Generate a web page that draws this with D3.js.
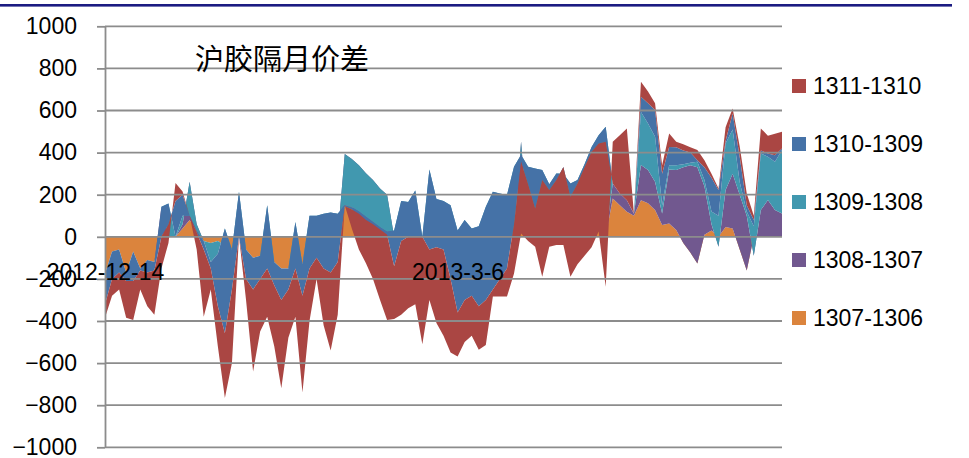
<!DOCTYPE html>
<html><head><meta charset="utf-8">
<script src="https://cdn.jsdelivr.net/npm/d3@7"></script>
<style>body{margin:0;background:#fff;} svg{display:block}</style>
</head><body>
<svg id="c" width="969" height="458"></svg>
<script>
const categories = ["2012-12-14","2012-12-17","2012-12-18","2012-12-19","2012-12-20","2012-12-21","2012-12-24","2012-12-25","2012-12-26","2012-12-27","2012-12-28","2012-12-31",
"2013-1-4","2013-1-7","2013-1-8","2013-1-9","2013-1-10","2013-1-11","2013-1-14","2013-1-15","2013-1-16","2013-1-17","2013-1-18",
"2013-1-21","2013-1-22","2013-1-23","2013-1-24","2013-1-25","2013-1-28","2013-1-29","2013-1-30","2013-1-31","2013-2-1",
"2013-2-4","2013-2-5","2013-2-6","2013-2-7","2013-2-8","2013-2-18","2013-2-19","2013-2-20","2013-2-21","2013-2-22",
"2013-2-25","2013-2-26","2013-2-27","2013-2-28","2013-3-1","2013-3-4","2013-3-5","2013-3-6","2013-3-7","2013-3-8",
"2013-3-11","2013-3-12","2013-3-13","2013-3-14","2013-3-15","2013-3-18","2013-3-19","2013-3-20","2013-3-21","2013-3-22",
"2013-3-25","2013-3-26","2013-3-27","2013-3-28","2013-3-29","2013-4-1","2013-4-2","2013-4-3",
"2013-4-8","2013-4-9","2013-4-10","2013-4-11","2013-4-12","2013-4-15","2013-4-16","2013-4-17","2013-4-18","2013-4-19",
"2013-4-22","2013-4-23","2013-4-24","2013-4-25","2013-4-26","2013-5-2","2013-5-3",
"2013-5-6","2013-5-7","2013-5-8","2013-5-9","2013-5-10","2013-5-13","2013-5-14","2013-5-15","2013-5-16"];

// series, in stacking order (first = bottom/back)
const s1307_1306 = [-175,-70,-60,-170,-70,-150,-110,-120,20,0, 0,40,80,30,-20,-30,-20,-40,-60,0,
 -60,-100,-90,-100,-120,-150,-150,-100,-130,0, 0,0,0,0,150,150,0,0,0,0, 0,0,0,0,0,0,0,0,0,0,
 0,0,0,0,0,0,0,0,0,30, 20,0,0,0,0,0,0,0,0,0, 30,0,182,150,119,100,174,159,127,56,
 63,32,-30,-75,-127,10,30,0,47,40, -60,-160,0,0,0,0,0];
const s1308_1307 = [0,0,0,0,0,0,0,0,123,0, 0,20,182,30,0,0,0,0,0,0, 0,0,0,0,0,0,0,0,0,0,
 0,0,0,0,243,220,340,302,270,230, 200,0,0,0,0,0,0,0,0,0, 0,0,0,0,0,0,0,0,0,422,
 0,0,0,0,0,0,0,0,0,0, 0,0,71,56,55,10,167,158,134,55, 257,285,360,415,457,230,30,-47,175,260,
 260,260,-90,127,175,127,111];
const s1309_1308 = [0,0,0,0,0,0,0,0,0,158, 0,40,-162,-30,0,-90,-60,80,0,214,
 0,0,0,250,0,0,0,170,0,100, 100,110,115,110,-242,-230,-220,-207,-200,-185,
 -176,30,170,165,220,0,320,180,170,150, 30,80,40,50,143,214,206,199,333,-62,
 313,325,317,250,301,300,253,270,345,427, 453,523,0,0,0,1,252,221,214,39,
 20,23,15,12,26,30,60,147,221,210, 60,20,140,269,205,229,301];
const s1310_1309 = [-145,-130,-110,-40,-140,-10,-60,-40,-143,-98, 170,100,0,-10,-40,-30,-250,-498,-190,-214,
 -140,-150,-110,-300,-110,-150,-100,-220,-150,-250, -200,-260,-285,-230,-6,-10,-10,-15,-10,-10,
 -14,-170,-190,-165,-220,0,-380,-230,-230,-350, -390,-380,-320,-380,-443,-464,-406,-349,-273,-33,
 -83,-190,-47,-28,-31,32,-63,-17,-15,-23, -40,-72,0,0,0,0,72,96,127,150,
 87,85,65,48,8,60,160,122,12,76, 120,30,30,14,16,32,8];
const s1311_1310 = [-65,-80,-80,-175,-185,-90,-160,-210,-150,-90, 85,15,0,-80,-320,-100,-190,-308,-350,0,
 -100,-390,-250,-230,-290,-420,-230,-230,-460,-250, -100,-270,-370,-250,5,-90,-170,-206,-260,-335,
 -405,-250,-350,-340,-320,-510,-240,-360,-410,-350, -209,-200,-190,-207,-214,-34,-84,-134,-234,-341,
 -270,-182,-460,-269,-309,-371,-380,-383,-420,-454, -418,-688,198,277,341,0,71,56,32,40,
 64,26,30,25,48,34,20,8,65,23, 50,56,20,105,84,102,79];

const seriesNames = ["1307-1306","1308-1307","1309-1308","1310-1309","1311-1310"];
const seriesValues = [s1307_1306, s1308_1307, s1309_1308, s1310_1309, s1311_1310];
const seriesColors = ["#DB843D","#71588F","#4198AF","#4572A7","#AA4643"];
const legendOrder = ["1311-1310","1310-1309","1309-1308","1308-1307","1307-1306"];
const yTicks = [-1000,-800,-600,-400,-200,0,200,400,600,800,1000];
const xTickLabels = ["2012-12-14","2013-3-6"];
const chartTitle = "沪胶隔月价差";

(function draw() {
  const svg = d3.select("#c");
  const pL = 105, pR = 782, pT = 26.3, pB = 447.3;
  const font = "'Liberation Sans', Arial, sans-serif";

  const x = d3.scalePoint().domain(categories).range([pL, pR]);
  const y = d3.scaleLinear().domain([-1000, 1000]).range([pB, pT]);

  svg.append("rect").attr("x", 0).attr("y", 4).attr("width", 952).attr("height", 2.6).attr("fill", "#1b1b82");

  const rows = categories.map((c, i) => {
    const r = {date: c};
    seriesNames.forEach((n, k) => r[n] = seriesValues[k][i]);
    return r;
  });
  const stacked = d3.stack().keys(seriesNames)(rows);
  const area = d3.area()
    .x(d => x(d.data.date))
    .y0(d => y(d[0]))
    .y1(d => y(d[1]));

  svg.append("g").selectAll("path").data(stacked).join("path")
    .attr("d", area)
    .attr("fill", (d, k) => seriesColors[k]);

  svg.append("g").selectAll("line").data(yTicks).join("line")
    .attr("x1", pL).attr("x2", pR)
    .attr("y1", d => y(d)).attr("y2", d => y(d))
    .attr("stroke", "#8c8c8c").attr("stroke-width", 1.8);

  const yAxis = d3.axisLeft(y).tickValues(yTicks).tickSize(8).tickSizeOuter(0).tickPadding(20).tickFormat(d3.format("d"));
  const gy = svg.append("g").attr("transform", `translate(${pL},0)`).call(yAxis);
  gy.select(".domain").attr("stroke", "#8c8c8c").attr("stroke-width", 1.8);
  gy.selectAll(".tick line").attr("stroke", "#8c8c8c").attr("stroke-width", 1.8);
  gy.selectAll("text").attr("font-family", font).attr("font-size", 23).attr("fill", "#000");

  const xAxis = d3.axisBottom(x).tickValues(xTickLabels).tickSize(0).tickPadding(27);
  const gx = svg.append("g").attr("transform", `translate(0,${y(0)})`).call(xAxis);
  gx.select(".domain").remove();
  gx.selectAll("text").attr("font-family", font).attr("font-size", 23).attr("fill", "#000");

  svg.append("text").attr("x", 195).attr("y", 70)
    .attr("font-family", "'Noto Sans CJK SC', sans-serif").attr("font-size", 29)
    .attr("fill", "#000").text(chartTitle);

  const lg = svg.append("g").selectAll("g").data(legendOrder).join("g")
    .attr("transform", (d, i) => `translate(792,${86 + i * 58})`);
  lg.append("rect").attr("x", 0).attr("y", -7).attr("width", 14).attr("height", 14)
    .attr("fill", d => seriesColors[seriesNames.indexOf(d)]);
  lg.append("text").attr("x", 21).attr("y", 0).attr("dy", "0.36em")
    .attr("font-family", font).attr("font-size", 23).attr("fill", "#000").text(d => d);
})();
</script>
</body></html>
